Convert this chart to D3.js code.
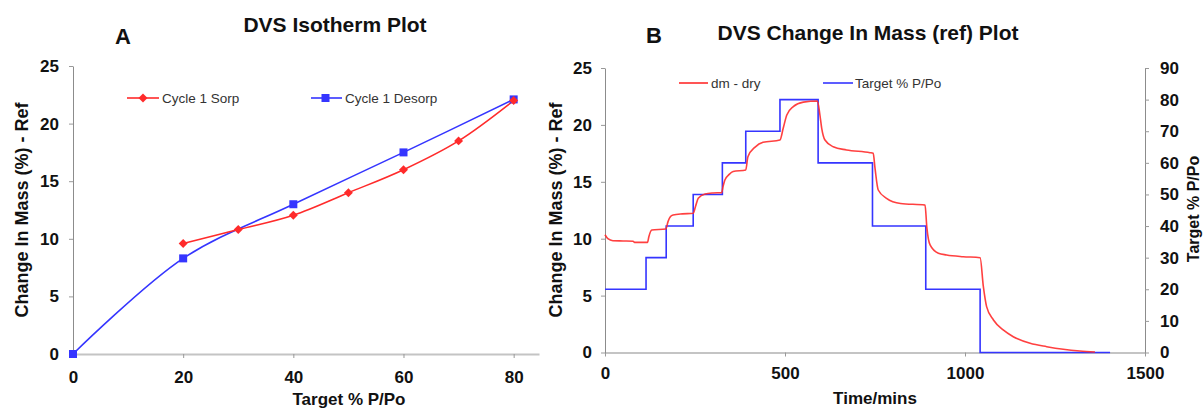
<!DOCTYPE html>
<html>
<head>
<meta charset="utf-8">
<script src="https://cdn.jsdelivr.net/npm/d3@7"></script>
<style>
  body { margin: 0; background: #fff; }
  svg { display: block; font-family: "Liberation Sans", Arial, sans-serif; }
  .tick text { font-weight: bold; font-size: 17px; fill: #111; }
  .legend text { font-size: 13.5px; fill: #333; }
</style>
</head>
<body>
<svg width="1203" height="410"></svg>
<script>
// panel A - isotherm
var sorpX = [20, 30, 40, 50, 60, 70, 80],
    sorpY = [9.6, 10.8, 12.05, 14.0, 16.0, 18.5, 22.0];
var desorpX = [80, 60, 40, 20, 0],
    desorpY = [22.1, 17.5, 13.0, 8.3, 0];
var isoXTicks = [0, 20, 40, 60, 80],
    massTicks = [0, 5, 10, 15, 20, 25];

// panel B - change in mass vs time
var stepTimes = [0, 114, 170, 245, 326, 391, 486, 592, 743, 891, 1042, 1403],
    stepTargets = [20, 30, 40, 50, 60, 70, 80, 60, 40, 20, 0, 0];
var dmTime = [0, 8, 22, 50, 78, 82, 118, 122, 130, 169, 175, 182, 189, 215, 245,
              252, 259, 278, 300, 324, 328, 333, 345, 356, 391, 397, 417, 439, 486,
              495, 505, 523, 551, 590, 597, 602, 611, 634, 671, 736, 745, 750, 759,
              782, 821, 889, 894, 903, 926, 949, 995, 1042, 1051, 1060, 1079, 1106,
              1134, 1181, 1227, 1273, 1319, 1361];
var dmMass = [10.35, 10.0, 9.82, 9.8, 9.78, 9.68, 9.68, 10.2, 10.76, 10.85, 11.5, 11.95,
              12.08, 12.18, 12.23, 12.9, 13.55, 13.93, 14.02, 14.05, 14.6, 15.16, 15.65,
              15.9, 16.04, 17.2, 18.05, 18.47, 18.67, 19.7, 20.87, 21.6, 22.0, 22.1, 20.87,
              19.7, 18.67, 18.08, 17.8, 17.56, 17.5, 16.2, 14.28, 13.55, 13.1, 12.96,
              11.0, 9.45, 8.72, 8.57, 8.42, 8.33, 5.78, 4.03, 2.86, 1.98, 1.39, 0.81,
              0.51, 0.28, 0.13, 0.05];
var timeTicks = [0, 500, 1000, 1500],
    targetTicks = [0, 10, 20, 30, 40, 50, 60, 70, 80, 90];

var svg = d3.select("svg");
var red = "#ff2b2b", blue = "#3535ff";

function styleAxis(g, lineColor, lineWidth) {
    g.select(".domain").attr("stroke", lineColor).attr("stroke-width", lineWidth);
    g.selectAll(".tick line").attr("stroke", "#999");
}

// ---------- A ----------
var xA = d3.scaleLinear().domain([0, 84.6]).range([73, 539]),
    yA = d3.scaleLinear().domain([0, 25]).range([354, 66]);

svg.append("g")
    .attr("transform", "translate(0,354)")
    .call(d3.axisBottom(xA).tickValues(isoXTicks).tickSize(4).tickSizeOuter(0).tickPadding(13))
    .call(styleAxis, "#c4c4c4", 2);

svg.append("g")
    .attr("transform", "translate(73,0)")
    .call(d3.axisLeft(yA).tickValues(massTicks).tickSize(4).tickSizeOuter(0).tickPadding(10))
    .call(styleAxis, "#8c8c8c", 1);

var lineA = d3.line().curve(d3.curveCatmullRom.alpha(0.5));

svg.append("path")
    .attr("d", lineA(desorpX.map(function(x, i) { return [xA(x), yA(desorpY[i])]; })))
    .attr("fill", "none").attr("stroke", blue).attr("stroke-width", 1.6);

svg.append("path")
    .attr("d", lineA(sorpX.map(function(x, i) { return [xA(x), yA(sorpY[i])]; })))
    .attr("fill", "none").attr("stroke", red).attr("stroke-width", 1.6);

svg.append("g").selectAll("rect")
    .data(desorpX)
    .enter()
        .append("rect")
        .attr("x", function(d) { return xA(d) - 4; })
        .attr("y", function(d, i) { return yA(desorpY[i]) - 4; })
        .attr("width", 8).attr("height", 8)
        .attr("fill", blue);

// Excel style diamond = square turned 45 degrees
var diamond = d3.symbol().type(d3.symbolSquare).size(40);
svg.append("g").selectAll("path")
    .data(sorpX)
    .enter()
        .append("path")
        .attr("d", diamond)
        .attr("transform", function(d, i) { return "translate(" + xA(d) + "," + yA(sorpY[i]) + ") rotate(45)"; })
        .attr("fill", red);

var legA = svg.append("g").attr("class", "legend");
legA.append("line").attr("x1", 127).attr("x2", 159).attr("y1", 98).attr("y2", 98)
    .attr("stroke", red).attr("stroke-width", 1.6);
legA.append("path").attr("d", diamond).attr("transform", "translate(143,98) rotate(45)").attr("fill", red);
legA.append("text").attr("x", 162).attr("y", 102.5).text("Cycle 1 Sorp");
legA.append("line").attr("x1", 311).attr("x2", 342).attr("y1", 98).attr("y2", 98)
    .attr("stroke", blue).attr("stroke-width", 1.6);
legA.append("rect").attr("x", 321.5).attr("y", 94).attr("width", 8).attr("height", 8).attr("fill", blue);
legA.append("text").attr("x", 345).attr("y", 102.5).text("Cycle 1 Desorp");

svg.append("text").attr("x", 123).attr("y", 44).attr("text-anchor", "middle")
    .attr("font-size", 22).attr("font-weight", "bold").attr("fill", "#111").text("A");
svg.append("text").attr("x", 335).attr("y", 32).attr("text-anchor", "middle")
    .attr("font-size", 21).attr("font-weight", "bold").attr("fill", "#111").text("DVS Isotherm Plot");
svg.append("text").attr("x", 349).attr("y", 405).attr("text-anchor", "middle")
    .attr("font-size", 17).attr("font-weight", "bold").attr("fill", "#111").text("Target % P/Po");
svg.append("text").attr("transform", "translate(28,210) rotate(-90)").attr("text-anchor", "middle")
    .attr("font-size", 18).attr("font-weight", "bold").attr("fill", "#111").text("Change In Mass (%) - Ref");

// ---------- B ----------
var xB = d3.scaleLinear().domain([0, 1500]).range([605, 1145]),
    yB = d3.scaleLinear().domain([0, 25]).range([352.5, 68]),
    yR = d3.scaleLinear().domain([0, 90]).range([352.5, 68]);

svg.append("g")
    .attr("transform", "translate(0,352.5)")
    .call(d3.axisBottom(xB).tickValues(timeTicks).tickFormat(d3.format("d"))
        .tickSize(4).tickSizeOuter(0).tickPadding(10))
    .call(styleAxis, "#c4c4c4", 2);

svg.append("g")
    .attr("transform", "translate(605,0)")
    .call(d3.axisLeft(yB).tickValues(massTicks).tickSize(4).tickSizeOuter(0).tickPadding(9))
    .call(styleAxis, "#8c8c8c", 1);

svg.append("g")
    .attr("transform", "translate(1145,0)")
    .call(d3.axisRight(yR).tickValues(targetTicks).tickSize(4).tickSizeOuter(0).tickPadding(11))
    .call(styleAxis, "#8c8c8c", 1);

var stepLine = d3.line()
    .x(function(d) { return xB(d[0]); })
    .y(function(d) { return yR(d[1]); })
    .curve(d3.curveStepAfter);

svg.append("path")
    .attr("d", stepLine(stepTimes.map(function(t, i) { return [t, stepTargets[i]]; })))
    .attr("fill", "none").attr("stroke", blue).attr("stroke-width", 1.6);

var dmLine = d3.line()
    .x(function(d) { return xB(d[0]); })
    .y(function(d) { return yB(d[1]); })
    .curve(d3.curveMonotoneX);

svg.append("path")
    .attr("d", dmLine(dmTime.map(function(t, i) { return [t, dmMass[i]]; })))
    .attr("fill", "none").attr("stroke", red).attr("stroke-width", 1.6).attr("stroke-opacity", 0.9);

var legB = svg.append("g").attr("class", "legend");
legB.append("line").attr("x1", 679).attr("x2", 708).attr("y1", 83).attr("y2", 83)
    .attr("stroke", red).attr("stroke-width", 1.6);
legB.append("text").attr("x", 711).attr("y", 87.5).text("dm - dry");
legB.append("line").attr("x1", 823).attr("x2", 853).attr("y1", 83).attr("y2", 83)
    .attr("stroke", blue).attr("stroke-width", 1.6);
legB.append("text").attr("x", 855).attr("y", 87.5).text("Target % P/Po");

svg.append("text").attr("x", 654).attr("y", 43).attr("text-anchor", "middle")
    .attr("font-size", 22).attr("font-weight", "bold").attr("fill", "#111").text("B");
svg.append("text").attr("x", 868).attr("y", 40).attr("text-anchor", "middle")
    .attr("font-size", 21).attr("font-weight", "bold").attr("fill", "#111").text("DVS Change In Mass (ref) Plot");
svg.append("text").attr("x", 875).attr("y", 404).attr("text-anchor", "middle")
    .attr("font-size", 17).attr("font-weight", "bold").attr("fill", "#111").text("Time/mins");
svg.append("text").attr("transform", "translate(562,210) rotate(-90)").attr("text-anchor", "middle")
    .attr("font-size", 18).attr("font-weight", "bold").attr("fill", "#111").text("Change In Mass (%) - Ref");
svg.append("text").attr("transform", "translate(1199,209) rotate(-90)").attr("text-anchor", "middle")
    .attr("font-size", 16).attr("font-weight", "bold").attr("fill", "#111").text("Target % P/Po");
</script>
</body>
</html>
